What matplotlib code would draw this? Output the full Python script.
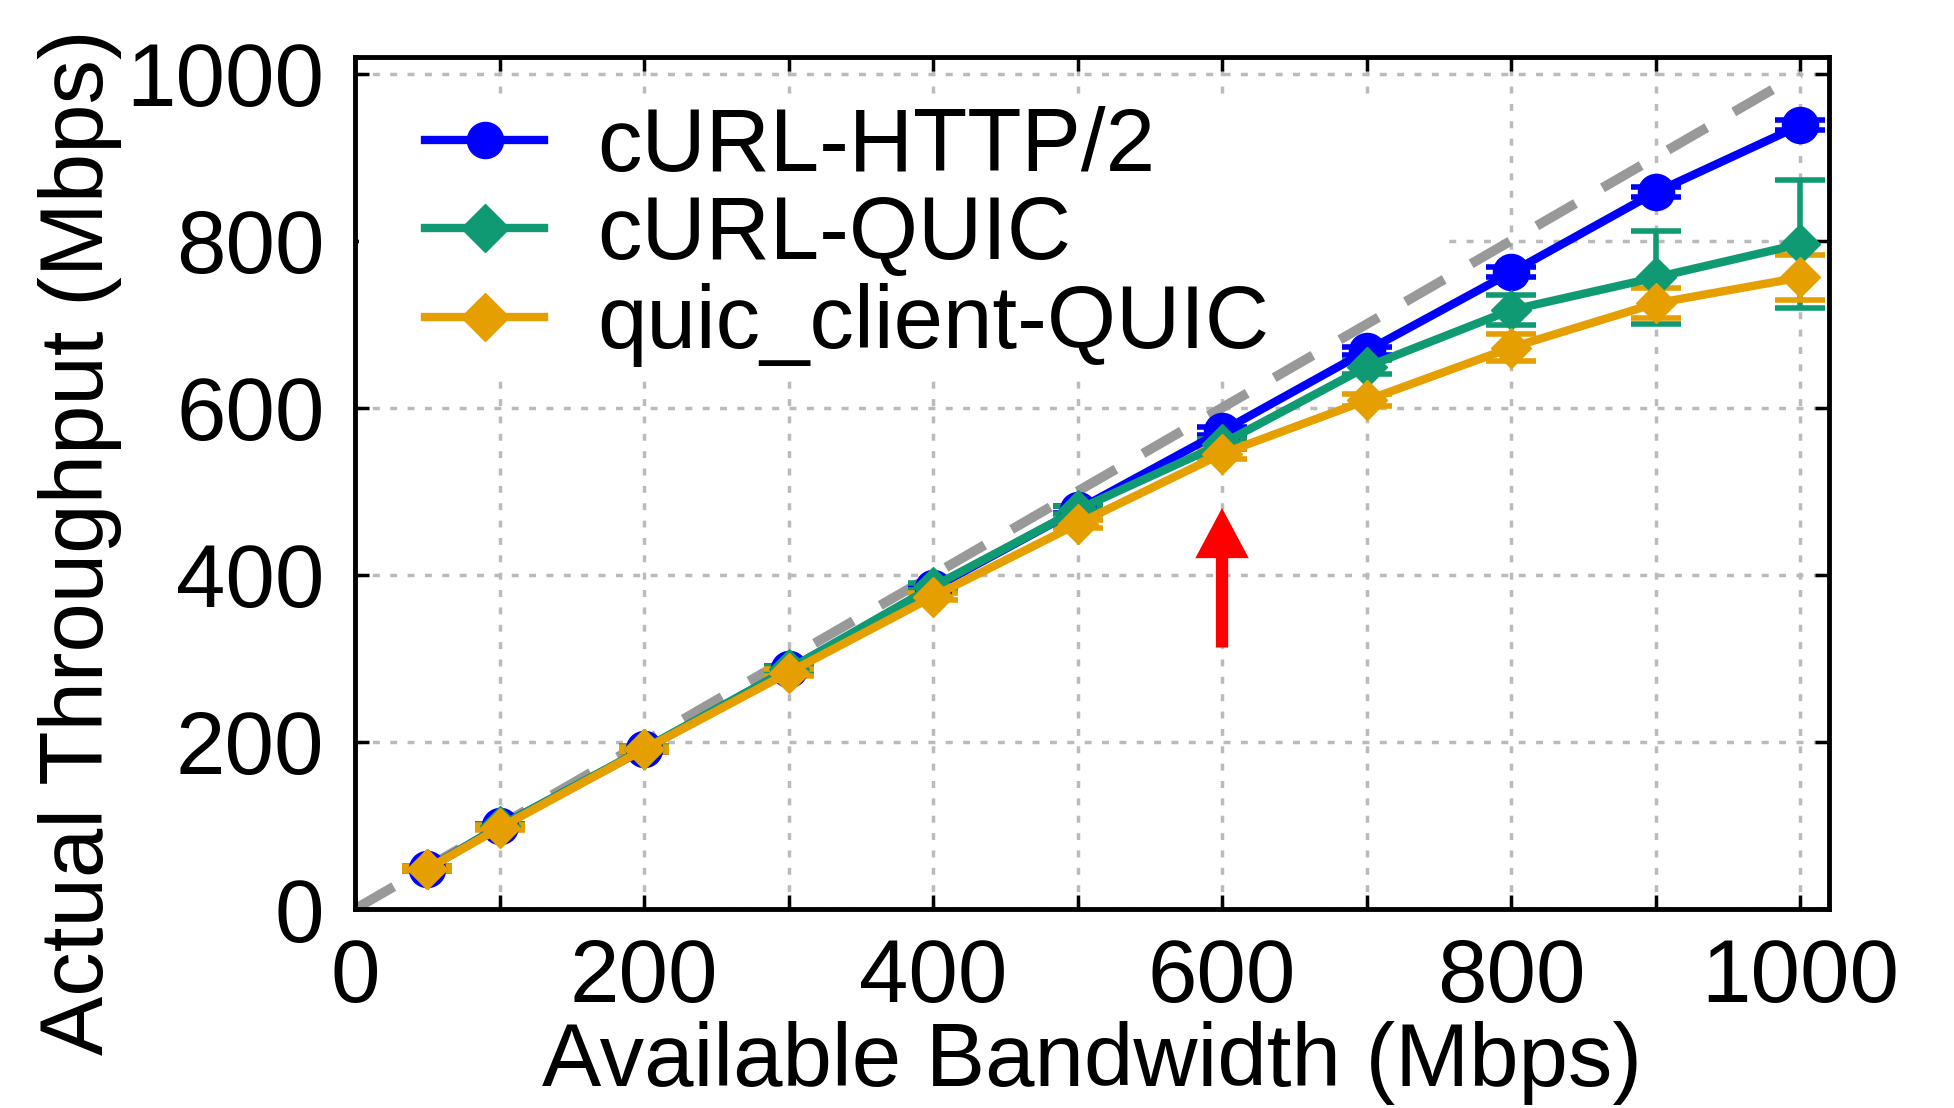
import numpy as np
import matplotlib
matplotlib.use('Agg')
import matplotlib.pyplot as plt
from matplotlib.lines import Line2D
from matplotlib.patches import Rectangle
from matplotlib.ticker import MultipleLocator

# Available bandwidth (Mbps)
bandwidth = [50, 100, 200, 300, 400, 500, 600, 700, 800, 900, 1000]

# Actual throughput (Mbps)
curl_http2 = [48, 99, 191, 287, 384, 478, 572, 668, 762, 858, 938]
curl_http2_err = [3, 3, 3, 4, 4, 4, 5, 5, 6, 6, 6]

curl_quic = [48, 99, 192, 287, 386, 478, 557, 649, 717, 756, 796]
curl_quic_err = [3, 3, 3, 4, 4, 5, 6, 8, 18, 56, 77]

quic_client = [48, 97, 191, 283, 374, 461, 545, 609, 672, 725, 756]
quic_client_err = [3, 3, 3, 4, 4, 5, 6, 7, 16, 18, 27]

labels = ['cURL-HTTP/2', 'cURL-QUIC', 'quic_client-QUIC']
colors = ['#0000ff', '#109a73', '#e69f00']
markers = ['o', 'D', 'D']

plt.rcParams['font.family'] = ['Liberation Sans', 'DejaVu Sans']

fig = plt.figure(figsize=(19.54, 11.08), dpi=100)
ax = fig.add_axes([0.1817, 0.1796, 0.936 - 0.1817, 0.9486 - 0.1796])

# ideal line y = x
ax.plot([0, 1000], [0, 1000], color='#999999', linestyle=(0, (4.6, 3.2)),
        linewidth=7, zorder=2)

series = [
    (curl_http2, curl_http2_err, 26),
    (curl_quic, curl_quic_err, 20),
    (quic_client, quic_client_err, 20),
]
for (vals, err, ms), label, color, marker in zip(series, labels, colors, markers):
    ax.errorbar(bandwidth, vals, yerr=err, color=color, marker=marker,
                markersize=ms, linewidth=6, elinewidth=4, capsize=18,
                capthick=4, zorder=3)

# red arrow pointing at the 600 Mbps point
ax.arrow(600, 313, 0, 167, width=8.5, head_width=37, head_length=60,
         length_includes_head=True, color='#ff0000', linewidth=0, zorder=4)

ax.set_xlim(0, 1020)
ax.set_ylim(0, 1020)
ax.xaxis.set_major_locator(MultipleLocator(200))
ax.xaxis.set_minor_locator(MultipleLocator(100))
ax.yaxis.set_major_locator(MultipleLocator(200))

ax.grid(True, which='both', axis='x', color='#bbbbbb', linestyle=(0, (2, 3)),
        linewidth=2.5, zorder=0)
ax.grid(True, which='major', axis='y', color='#bbbbbb', linestyle=(0, (2, 3)),
        linewidth=2.5, zorder=0)
ax.set_axisbelow(True)

# white key box hides the grid behind the legend
ax.add_patch(Rectangle((0.003, 0.628), 0.738, 0.329, transform=ax.transAxes,
                       facecolor='white', edgecolor='none', zorder=1))

ax.tick_params(axis='both', which='both', direction='in', top=True, right=True,
               length=10, width=2.5, labelsize=64)
ax.tick_params(axis='x', which='major', pad=20)
ax.tick_params(axis='y', which='major', pad=22)
for spine in ax.spines.values():
    spine.set_linewidth(3.5)
    spine.set_zorder(6)

ax.set_xlabel('Available Bandwidth (Mbps)', fontsize=64)
ax.set_ylabel('Actual Throughput (Mbps)', fontsize=64)
ax.xaxis.set_label_coords(0.5, -0.132)
ax.yaxis.set_label_coords(-0.158, 0.43)

handles = [Line2D([], [], color=c, marker=m, markersize=ms, linewidth=6)
           for c, m, ms in zip(colors, markers, [26, 24, 24])]
leg = ax.legend(handles, labels, loc='upper left', bbox_to_anchor=(0.0475, 0.9425),
                fontsize=64, frameon=False, borderpad=0.0, labelspacing=0.05,
                handlelength=1.34, handletextpad=0.6, borderaxespad=0.0)
leg.set_zorder(5)

fig.savefig('out.png', dpi=100)
